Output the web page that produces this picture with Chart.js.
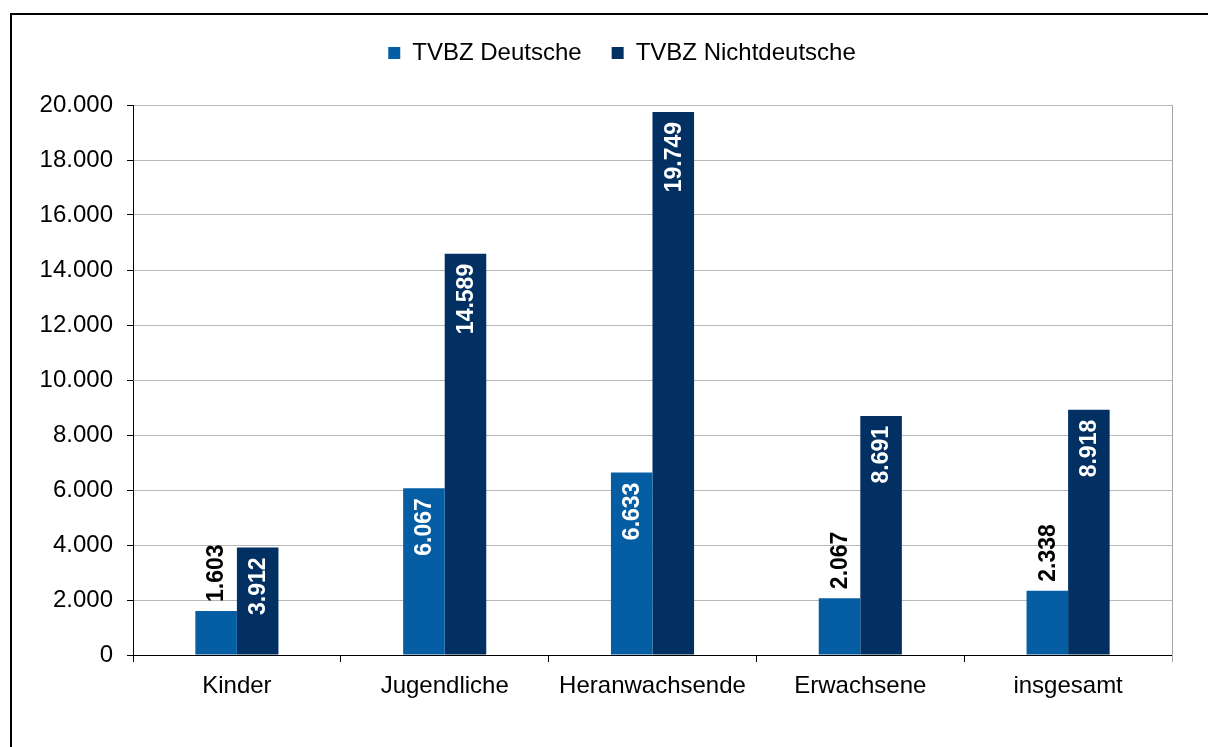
<!DOCTYPE html>
<html>
<head>
<meta charset="utf-8">
<script src="https://cdn.jsdelivr.net/npm/chart.js@4"></script>
<style>
  html, body { margin: 0; padding: 0; background: #fff; }
  #wrap { width: 1208px; height: 747px; }
</style>
</head>
<body>
<div id="wrap"><canvas id="tvbzchart" width="1208" height="747"></canvas></div>
<script>
// Werte aus der Grafik
var categories = ['Kinder', 'Jugendliche', 'Heranwachsende', 'Erwachsene', 'insgesamt'];
var deutsche = [1603, 6067, 6633, 2067, 2338];
var nichtdeutsche = [3912, 14589, 19749, 8691, 8918];
var seriesNames = ['TVBZ Deutsche', 'TVBZ Nichtdeutsche'];

var FONT = 'Arial, "Liberation Sans", sans-serif';

function fmt(v) {
    // deutsche Tausendertrennung
    return String(v).replace(/\B(?=(\d{3})+(?!\d))/g, '.');
}

// Rahmen um die Grafik + graue Linie rechts am Plotbereich
var framePlugin = {
    id: 'frame',
    beforeDraw: function(chart) {
        var c = chart.ctx;
        c.save();
        c.fillStyle = '#fff';
        c.fillRect(0, 0, chart.width, chart.height);
        c.strokeStyle = '#000';
        c.lineWidth = 2;
        c.beginPath();
        c.moveTo(11, chart.height);
        c.lineTo(11, 14);
        c.lineTo(chart.width, 14);
        c.stroke();
        c.restore();
    },
    afterDraw: function(chart) {
        var a = chart.chartArea, c = chart.ctx;
        c.save();
        c.strokeStyle = '#a6a6a6';
        c.lineWidth = 1;
        c.beginPath();
        c.moveTo(a.right + 0.5, a.top);
        c.lineTo(a.right + 0.5, a.bottom + 7);
        c.stroke();
        c.restore();
    }
};

// Legende hoeher machen (Plot beginnt bei y=105) und etwas nach rechts schieben
var legendGap = {
    id: 'legendGap',
    beforeInit: function(chart) {
        var fit = chart.legend.fit;
        chart.legend.fit = function() {
            fit.bind(chart.legend)();
            this.height = 105 - 11;
        };
    },
    afterLayout: function(chart) {
        chart.legend.left += 36;
        chart.legend.right += 36;
    }
};

// senkrechte Beschriftung der Balken
var valueLabels = {
    id: 'valueLabels',
    afterDatasetsDraw: function(chart) {
        var c = chart.ctx;
        chart.data.datasets.forEach(function(ds, i) {
            var meta = chart.getDatasetMeta(i);
            meta.data.forEach(function(bar, j) {
                var v = ds.data[j];
                var inside = v > 3000;
                c.save();
                c.translate(bar.x, bar.y);
                c.rotate(-Math.PI / 2);
                c.font = 'bold 23px ' + FONT;
                c.textBaseline = 'middle';
                if (inside) {
                    c.fillStyle = '#fff';
                    c.textAlign = 'right';
                    c.fillText(fmt(v), -10, 1);
                } else {
                    c.fillStyle = '#000';
                    c.textAlign = 'left';
                    c.fillText(fmt(v), 9, 1);
                }
                c.restore();
            });
        });
    }
};

var ctx = document.getElementById('tvbzchart').getContext('2d');
var tvbzChart = new Chart(ctx, {
    type: 'bar',
    data: {
        labels: categories,
        datasets: [{
            label: seriesNames[0],
            data: deutsche,
            backgroundColor: '#055ea4',
            borderWidth: 0
        }, {
            label: seriesNames[1],
            data: nichtdeutsche,
            backgroundColor: '#023063',
            borderWidth: 0
        }]
    },
    options: {
        responsive: false,
        animation: false,
        layout: { padding: { top: 11, right: 36, left: 0, bottom: 0 } },
        datasets: {
            bar: { categoryPercentage: 0.4, barPercentage: 1.0 }
        },
        scales: {
            x: {
                grid: {
                    offset: true,
                    drawOnChartArea: false,
                    drawTicks: true,
                    tickLength: 7,
                    tickColor: '#000'
                },
                border: { color: '#000', width: 1 },
                ticks: {
                    color: '#000',
                    padding: 10,
                    font: { family: FONT, size: 24 }
                },
                afterFit: function(scale) { scale.height = 92; }
            },
            y: {
                min: 0,
                max: 20000,
                ticks: {
                    stepSize: 2000,
                    color: '#000',
                    padding: 14,
                    font: { family: FONT, size: 24 },
                    callback: function(v) { return fmt(v); }
                },
                grid: {
                    color: '#b8b8b8',
                    tickLength: 6,
                    tickColor: '#000'
                },
                border: { color: '#000', width: 1 },
                afterFit: function(scale) { scale.width = 133; }
            }
        },
        plugins: {
            legend: {
                position: 'top',
                labels: {
                    color: '#000',
                    boxWidth: 12,
                    boxHeight: 12,
                    padding: 30,
                    font: { family: FONT, size: 24 }
                }
            },
            tooltip: { enabled: false }
        }
    },
    plugins: [framePlugin, legendGap, valueLabels]
});
</script>
</body>
</html>
